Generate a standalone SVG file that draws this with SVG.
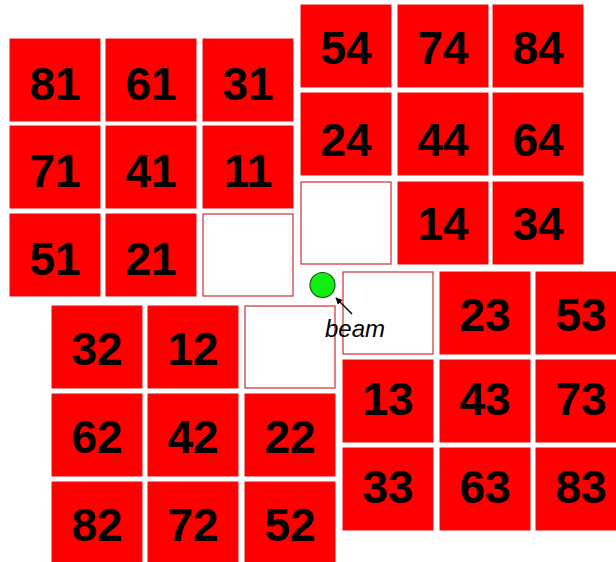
<svg xmlns="http://www.w3.org/2000/svg" width="616" height="562" viewBox="0 0 616 562">
<style>
.r{fill:#ff0000;stroke:#e81010;stroke-width:1}
.e{fill:#ffffff;stroke:#c83030;stroke-width:1.2}
.t{font-family:"Liberation Sans",Arial,sans-serif;font-weight:bold;font-size:46px;fill:#000;text-anchor:middle}
.b{font-family:"Liberation Sans",Arial,sans-serif;font-style:italic;font-size:24px;fill:#000}
</style>
<defs>
<marker id="ah" viewBox="0 0 10 10" refX="9" refY="5" markerWidth="7" markerHeight="7" orient="auto" markerUnits="userSpaceOnUse">
<path d="M0,0 L10,5 L0,10 z" fill="#000"/>
</marker>
</defs>
<rect width="616" height="562" fill="#fff"/>
<!-- Block A -->
<g id="n81"><rect class="r" x="10" y="39" width="90" height="82"/><text class="t" x="55" y="100">81</text></g>
<g id="n61"><rect class="r" x="106" y="39" width="90" height="82"/><text class="t" x="151" y="100">61</text></g>
<g id="n31"><rect class="r" x="203" y="39" width="90" height="82"/><text class="t" x="248" y="100">31</text></g>
<g id="n71"><rect class="r" x="10" y="126" width="90" height="82"/><text class="t" x="55" y="187">71</text></g>
<g id="n41"><rect class="r" x="106" y="126" width="90" height="82"/><text class="t" x="151" y="187">41</text></g>
<g id="n11"><rect class="r" x="203" y="126" width="90" height="82"/><text class="t" x="248" y="187">11</text></g>
<g id="n51"><rect class="r" x="10" y="214" width="90" height="82"/><text class="t" x="55" y="275">51</text></g>
<g id="n21"><rect class="r" x="106" y="214" width="90" height="82"/><text class="t" x="151" y="275">21</text></g>
<g id="eA"><rect class="e" x="203" y="214" width="90" height="82"/></g>
<!-- Block B -->
<g id="n54"><rect class="r" x="301" y="5" width="90" height="82"/><text class="t" x="346" y="64">54</text></g>
<g id="n74"><rect class="r" x="398" y="5" width="90" height="82"/><text class="t" x="443" y="64">74</text></g>
<g id="n84"><rect class="r" x="493" y="5" width="90" height="82"/><text class="t" x="538" y="64">84</text></g>
<g id="n24"><rect class="r" x="301" y="93" width="90" height="82"/><text class="t" x="346" y="156">24</text></g>
<g id="n44"><rect class="r" x="398" y="93" width="90" height="82"/><text class="t" x="443" y="156">44</text></g>
<g id="n64"><rect class="r" x="493" y="93" width="90" height="82"/><text class="t" x="538" y="156">64</text></g>
<g id="eB"><rect class="e" x="301" y="182" width="90" height="82"/></g>
<g id="n14"><rect class="r" x="398" y="182" width="90" height="82"/><text class="t" x="443" y="240">14</text></g>
<g id="n34"><rect class="r" x="493" y="182" width="90" height="82"/><text class="t" x="538" y="240">34</text></g>
<!-- Block C -->
<g id="n32"><rect class="r" x="52" y="306" width="90" height="82"/><text class="t" x="97" y="365">32</text></g>
<g id="n12"><rect class="r" x="148" y="306" width="90" height="82"/><text class="t" x="193" y="365">12</text></g>
<g id="eC"><rect class="e" x="245" y="306" width="90" height="82"/></g>
<g id="n62"><rect class="r" x="52" y="394" width="90" height="82"/><text class="t" x="97" y="453">62</text></g>
<g id="n42"><rect class="r" x="148" y="394" width="90" height="82"/><text class="t" x="193" y="453">42</text></g>
<g id="n22"><rect class="r" x="245" y="394" width="90" height="82"/><text class="t" x="290" y="453">22</text></g>
<g id="n82"><rect class="r" x="52" y="482" width="90" height="82"/><text class="t" x="97" y="541">82</text></g>
<g id="n72"><rect class="r" x="148" y="482" width="90" height="82"/><text class="t" x="193" y="541">72</text></g>
<g id="n52"><rect class="r" x="245" y="482" width="90" height="82"/><text class="t" x="290" y="541">52</text></g>
<!-- Block D -->
<g id="eD"><rect class="e" x="343" y="272" width="90" height="82"/></g>
<g id="n23"><rect class="r" x="440" y="272" width="90" height="82"/><text class="t" x="485" y="331">23</text></g>
<g id="n53"><rect class="r" x="536" y="272" width="90" height="82"/><text class="t" x="581" y="331">53</text></g>
<g id="n13"><rect class="r" x="343" y="360" width="90" height="82"/><text class="t" x="388" y="415">13</text></g>
<g id="n43"><rect class="r" x="440" y="360" width="90" height="82"/><text class="t" x="485" y="415">43</text></g>
<g id="n73"><rect class="r" x="536" y="360" width="90" height="82"/><text class="t" x="581" y="415">73</text></g>
<g id="n33"><rect class="r" x="343" y="448" width="90" height="82"/><text class="t" x="388" y="503">33</text></g>
<g id="n63"><rect class="r" x="440" y="448" width="90" height="82"/><text class="t" x="485" y="503">63</text></g>
<g id="n83"><rect class="r" x="536" y="448" width="90" height="82"/><text class="t" x="581" y="503">83</text></g>
<!-- beam -->
<g id="beam"><circle cx="322.5" cy="285" r="12.5" fill="#11ee11" stroke="#115511" stroke-width="1.2"/><text class="b" x="325" y="337">beam</text></g>
<g id="connectors"><line x1="352" y1="314" x2="336" y2="298" stroke="#000" stroke-width="1.5" marker-end="url(#ah)"/></g>
</svg>
